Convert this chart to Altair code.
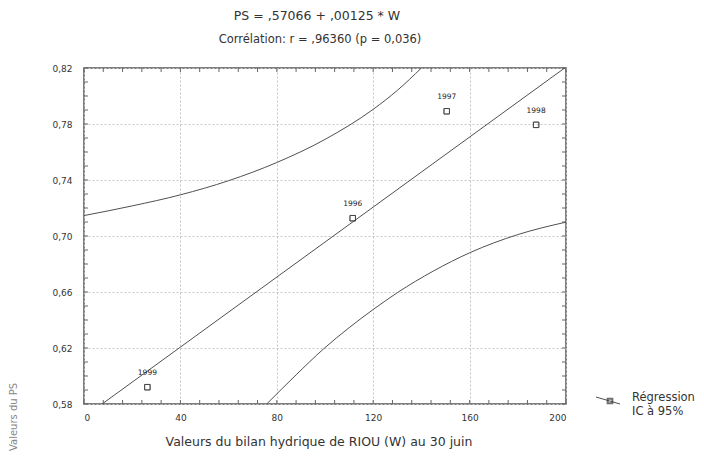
import altair as alt
import pandas as pd

# Observations: water balance W (30 June) vs PS
years = ["1999", "1996", "1997", "1998"]
w_obs = [26.3, 111.5, 150.5, 187.6]
ps_obs = [0.592, 0.7127, 0.7891, 0.7794]

# Fitted regression line PS = ,57066 + ,00125 * W (ends of the visible segment)
reg_w = [7.5, 200.0]
reg_ps = [0.5800, 0.8207]

# 95 % confidence band, upper and lower curves
upper_w = [0.0, 20.0, 40.0, 60.0, 80.0, 100.0, 120.0, 130.0, 140.0]
upper_ps = [0.7146, 0.7215, 0.7294, 0.7395, 0.7525, 0.7690, 0.7905, 0.8040, 0.8200]
lower_w = [75.8, 88.0, 99.3, 110.0, 120.0, 130.0, 145.0, 160.0, 180.0, 200.0]
lower_ps = [0.5800, 0.6008, 0.6192, 0.6345, 0.6475, 0.6595, 0.6750, 0.6880, 0.7010, 0.7099]

x_major = [0, 40, 80, 120, 160, 200]
y_major = [0.58, 0.62, 0.66, 0.70, 0.74, 0.78, 0.82]
x_minor = list(range(0, 201, 8))
y_minor = [round(0.58 + 0.01 * i, 2) for i in range(25)]

title_1 = "PS = ,57066 + ,00125 * W"
title_2 = "Corrélation: r = ,96360 (p = 0,036)"
x_title = "Valeurs du bilan hydrique de RIOU (W) au 30 juin"
y_title = "Valeurs du PS"
legend_labels = ["Régression", "IC à 95%"]

W, H = 482, 336
FONT = "DejaVu Sans"
INK = "#505050"

xs = alt.Scale(domain=[0, 200], nice=False, zero=False)
ys = alt.Scale(domain=[0.58, 0.82], nice=False, zero=False)

obs = pd.DataFrame({"year": years, "W": w_obs, "PS": ps_obs})
reg = pd.DataFrame({"W": reg_w, "PS": reg_ps})
up = pd.DataFrame({"W": upper_w, "PS": upper_ps})
lo = pd.DataFrame({"W": lower_w, "PS": lower_ps})

x_axis = alt.Axis(
    values=x_major, title=None, grid=True, gridColor="#c4c4c4", gridDash=[2, 2],
    gridWidth=1, ticks=False, domain=False, labelFontSize=9, labelColor="#333",
    labelPadding=9, labelFont=FONT,
)
y_axis = alt.Axis(
    values=y_major, title=None, grid=True, gridColor="#c4c4c4", gridDash=[2, 2],
    gridWidth=1, ticks=False, domain=False, labelFontSize=9, labelColor="#333",
    labelPadding=12, labelFont=FONT,
    labelExpr="replace(format(datum.value, '.2f'), '.', ',')",
)

points = alt.Chart(obs).mark_point(
    shape="square", filled=False, size=30, color="#333", strokeWidth=1
).encode(x=alt.X("W:Q", scale=xs, axis=x_axis), y=alt.Y("PS:Q", scale=ys, axis=y_axis))

point_labels = alt.Chart(obs).mark_text(
    dy=-14, fontSize=7.5, font=FONT, color="#222"
).encode(x=alt.X("W:Q", scale=xs), y=alt.Y("PS:Q", scale=ys), text="year:N")


def curve(df):
    return alt.Chart(df).mark_line(
        color=INK, strokeWidth=1, clip=True, interpolate="monotone"
    ).encode(x=alt.X("W:Q", scale=xs), y=alt.Y("PS:Q", scale=ys))


# inside tick marks along the frame
xt = pd.DataFrame({"W": x_minor})
yt = pd.DataFrame({"PS": y_minor})
tick_style = dict(color="#666", strokeWidth=1)
ticks = [
    alt.Chart(xt).mark_rule(**tick_style).encode(x=alt.X("W:Q", scale=xs), y=alt.value(H), y2=alt.value(H - 4)),
    alt.Chart(xt).mark_rule(**tick_style).encode(x=alt.X("W:Q", scale=xs), y=alt.value(0), y2=alt.value(4)),
    alt.Chart(yt).mark_rule(**tick_style).encode(y=alt.Y("PS:Q", scale=ys), x=alt.value(0), x2=alt.value(4)),
    alt.Chart(yt).mark_rule(**tick_style).encode(y=alt.Y("PS:Q", scale=ys), x=alt.value(W), x2=alt.value(W - 4)),
]


def label(text, x, y, size, **kw):
    return alt.Chart(pd.DataFrame({"t": [text]})).mark_text(
        fontSize=size, font=FONT, color=kw.pop("color", "#333"), **kw
    ).encode(x=alt.value(x), y=alt.value(y), text="t:N")


texts = [
    label(title_1, 233, -52, 12.5),
    label(title_2, 236, -28, 11.5),
    label(x_title, 235, 374, 12.5),
    label(y_title, -70, 383, 10, angle=270, align="left", color="#888"),
    label(legend_labels[0], 548, 330, 11.5, align="left"),
    label(legend_labels[1], 548, 344, 11.5, align="left"),
]

# legend symbol: short line with a square marker
legend_line = alt.Chart(pd.DataFrame({"k": [0]})).mark_rule(color=INK, strokeWidth=1).encode(
    x=alt.value(512), x2=alt.value(536), y=alt.value(329), y2=alt.value(336)
)
legend_sq = alt.Chart(pd.DataFrame({"k": [0]})).mark_point(
    shape="square", filled=False, size=22, color="#333"
).encode(x=alt.value(526), y=alt.value(333))

chart = alt.layer(
    points, *ticks, curve(up), curve(lo), curve(reg), points, point_labels,
    *texts, legend_line, legend_sq,
).properties(
    width=W, height=H,
    autosize=alt.AutoSizeParams(type="none"),
    padding={"left": 84, "top": 68, "right": 704 - 84 - W, "bottom": 458 - 68 - H},
    background="white",
).configure_view(stroke="#555", strokeWidth=1.5)

chart.save("out.html", embed_options={"renderer": "svg", "actions": False})
